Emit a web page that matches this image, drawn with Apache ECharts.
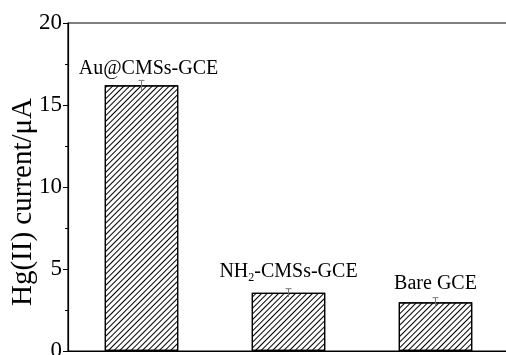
<!DOCTYPE html>
<html>
<head>
<meta charset="utf-8">
<script src="https://cdn.jsdelivr.net/npm/echarts@6/dist/echarts.min.js"></script>
<style>
  html, body { margin: 0; padding: 0; background: #fff; }
  #chart { width: 506px; height: 355px; }
</style>
</head>
<body>
<div id="chart"></div>
<script>
// Electrode responses to Hg(II)
const electrodes = ['Au@CMSs-GCE', 'NH2-CMSs-GCE', 'Bare GCE'];
const electrodeLabels = ['Au@CMSs-GCE', '{t|NH}{s|2}{t|-CMSs-GCE}', 'Bare GCE'];
const currents = [16.2, 3.55, 2.97];
const currentErrors = [0.3, 0.25, 0.28];
const yTicks = [0, 5, 10, 15, 20];

const serif = 'Liberation Serif';

const chart = echarts.init(document.getElementById('chart'), null, { renderer: 'canvas' });

const barData = currents.map((v, i) => ({
  value: v,
  label: i === 0 ? { formatter: electrodeLabels[i], offset: [7, 2] } : { formatter: electrodeLabels[i] }
}));

const errData = currents.map((v, i) => [i, v, currentErrors[i]]);

chart.setOption({
  animation: false,
  backgroundColor: '#fff',
  grid: {
    left: 68, top: 23, width: 441, height: 328,
    outerBoundsMode: 'none',
    containLabel: false,
    show: true, borderColor: '#000', borderWidth: 1.2, backgroundColor: 'transparent'
  },
  xAxis: {
    type: 'category',
    data: electrodes,
    axisLine: { lineStyle: { color: '#000', width: 1.2 } },
    axisTick: { show: false },
    axisLabel: { show: false }
  },
  yAxis: {
    type: 'value',
    min: yTicks[0],
    max: yTicks[yTicks.length - 1],
    interval: yTicks[1] - yTicks[0],
    name: 'Hg(II) current/μA',
    nameLocation: 'middle',
    nameRotate: 90,
    nameGap: 30,
    nameMoveOverlap: false,
    nameTextStyle: { fontFamily: serif, fontSize: 29, color: '#000', padding: [0, 30, 0, 0] },
    axisLine: { show: true, lineStyle: { color: '#000', width: 1.2 } },
    axisTick: { show: true, inside: false, length: 5, lineStyle: { color: '#000', width: 1 } },
    minorTick: { show: true, splitNumber: 2, length: 3, lineStyle: { color: '#000', width: 1 } },
    splitLine: { show: false },
    axisLabel: { fontFamily: serif, fontSize: 23, color: '#000', margin: 6 }
  },
  series: [
    {
      type: 'bar',
      data: barData,
      barWidth: '50%',
      itemStyle: {
        color: '#fff',
        borderColor: '#000',
        borderWidth: 1.2,
        decal: {
          symbol: 'rect',
          symbolSize: 1,
          color: '#000',
          dashArrayX: [1, 0],
          dashArrayY: [1, 3],
          rotation: -Math.PI / 4
        }
      },
      label: {
        show: true,
        position: 'top',
        distance: 9,
        fontFamily: serif,
        fontSize: 20,
        color: '#000',
        rich: {
          t: { fontFamily: serif, fontSize: 20, color: '#000' },
          s: { fontFamily: serif, fontSize: 12, color: '#000', padding: [12, 0, 0, 0] }
        }
      },
      z: 2
    },
    {
      type: 'custom',
      data: errData,
      encode: { x: 0, y: 1 },
      z: 3,
      renderItem: function (params, api) {
        const idx = api.value(0);
        const val = api.value(1);
        const err = api.value(2);
        const hi = api.coord([idx, val + err]);
        const lo = api.coord([idx, val - err]);
        const cap = 3;
        const style = { stroke: '#777', lineWidth: 1 };
        return {
          type: 'group',
          children: [
            { type: 'line', shape: { x1: hi[0], y1: hi[1], x2: lo[0], y2: lo[1] }, style: style },
            { type: 'line', shape: { x1: hi[0] - cap, y1: hi[1], x2: hi[0] + cap, y2: hi[1] }, style: style }
          ]
        };
      }
    }
  ]
});
</script>
</body>
</html>
